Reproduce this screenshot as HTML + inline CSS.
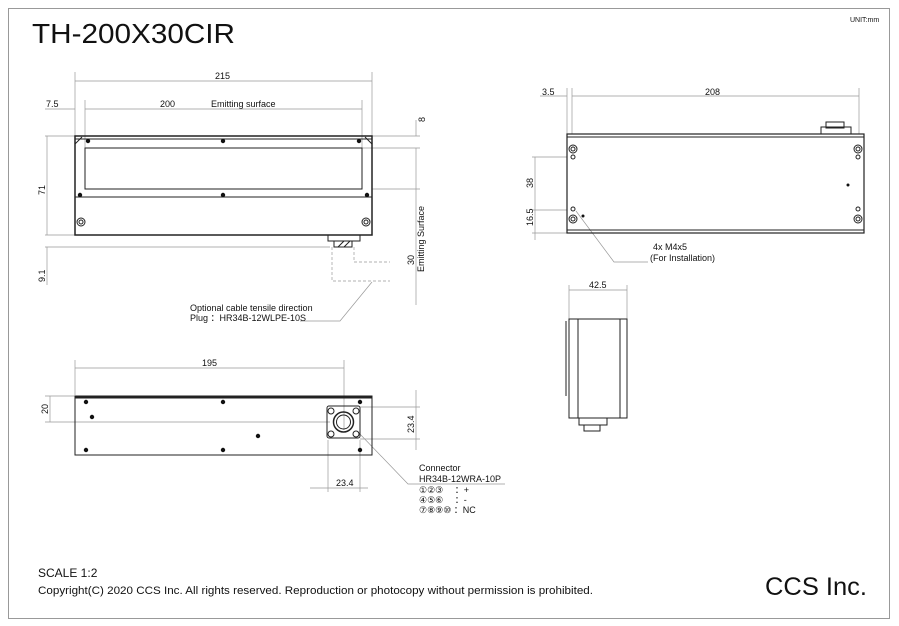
<!DOCTYPE html>
<html><head><meta charset="utf-8"><style>
html,body{margin:0;padding:0;background:#fff;}
svg{display:block;font-family:"Liberation Sans",sans-serif;}
</style></head><body>
<svg width="899" height="626" viewBox="0 0 899 626" xmlns="http://www.w3.org/2000/svg">
<rect x="0" y="0" width="899" height="626" fill="#fff"/>
<rect x="8.5" y="8.5" width="881" height="610" fill="none" stroke="#999" stroke-width="1"/>
<text x="32" y="43" font-size="28" fill="#111" textLength="203" lengthAdjust="spacingAndGlyphs">TH-200X30CIR</text>
<text x="850" y="22" font-size="7" fill="#111">UNIT:mm</text>

<g stroke="#999" stroke-width="0.7" fill="none">
<line x1="75" y1="72" x2="75" y2="136"/><line x1="372" y1="72" x2="372" y2="136"/>
<line x1="75" y1="81" x2="372" y2="81"/>
<line x1="85" y1="100" x2="85" y2="148"/><line x1="362" y1="100" x2="362" y2="148"/>
<line x1="45" y1="109" x2="75" y2="109"/><line x1="85" y1="109" x2="362" y2="109"/>
<line x1="45" y1="136" x2="75" y2="136"/><line x1="45" y1="235" x2="75" y2="235"/>
<line x1="47" y1="136" x2="47" y2="235"/>
<line x1="45" y1="247" x2="330" y2="247"/>
<line x1="47" y1="247" x2="47" y2="285"/>
<line x1="372" y1="136" x2="420" y2="136"/><line x1="362" y1="148" x2="420" y2="148"/><line x1="372" y1="189" x2="420" y2="189"/>
<line x1="416" y1="120" x2="416" y2="136"/><line x1="416" y1="148" x2="416" y2="189"/><line x1="416" y1="189" x2="416" y2="305"/>
<polyline points="354,247 354,262 390,262" stroke-dasharray="3,2"/>
<polyline points="332,247 332,281 390,281" stroke-dasharray="3,2"/>
<polyline points="372,282 340,321 300,321"/>
<line x1="75" y1="360" x2="75" y2="395"/><line x1="344" y1="360" x2="344" y2="430"/>
<line x1="75" y1="368" x2="344" y2="368"/>
<line x1="45" y1="396" x2="75" y2="396"/><line x1="45" y1="422" x2="330" y2="422"/>
<line x1="50" y1="396" x2="50" y2="422"/>
<line x1="360" y1="407" x2="420" y2="407"/><line x1="360" y1="439" x2="420" y2="439"/>
<line x1="416" y1="390" x2="416" y2="450"/>
<line x1="328" y1="440" x2="328" y2="492"/><line x1="360" y1="440" x2="360" y2="492"/>
<line x1="310" y1="488" x2="368" y2="488"/>
<polyline points="358,432 408,484 505,484"/>
<line x1="567" y1="88" x2="567" y2="134"/><line x1="572" y1="88" x2="572" y2="134"/><line x1="859" y1="88" x2="859" y2="134"/>
<line x1="540" y1="96" x2="567" y2="96"/><line x1="572" y1="96" x2="859" y2="96"/>
<line x1="532" y1="157" x2="567" y2="157"/><line x1="532" y1="210" x2="567" y2="210"/><line x1="532" y1="233" x2="567" y2="233"/>
<line x1="535" y1="157" x2="535" y2="240"/>
<polyline points="576,211 614,262 648,262"/>
<line x1="569" y1="285" x2="569" y2="319"/><line x1="627" y1="285" x2="627" y2="319"/>
<line x1="569" y1="290" x2="627" y2="290"/>
</g>

<g stroke="#222" fill="none" stroke-width="1">
<rect x="75" y="136" width="297" height="99" stroke-width="1.5"/>
<line x1="75" y1="139" x2="372" y2="139"/>
<rect x="85" y="148" width="277" height="41"/>
<line x1="75" y1="197" x2="372" y2="197"/>
<line x1="75" y1="144" x2="82" y2="137"/><line x1="372" y1="144" x2="365" y2="137"/>
<circle cx="81" cy="222" r="4"/><circle cx="366" cy="222" r="4"/>
<circle cx="81" cy="222" r="2"/><circle cx="366" cy="222" r="2"/>
<rect x="328" y="235" width="32" height="6"/><rect x="334" y="241" width="18" height="6"/>
<path d="M338 247 l6 -6 M344 247 l6 -6"/>
<rect x="75" y="396" width="297" height="59"/>
<line x1="75" y1="397.5" x2="372" y2="397.5" stroke-width="2"/>
<rect x="327" y="406" width="33" height="32" rx="2"/>
<circle cx="343.5" cy="422" r="10" stroke-width="1.5"/><circle cx="343.5" cy="422" r="7"/>
<circle cx="331" cy="411" r="3"/><circle cx="356" cy="411" r="3"/><circle cx="331" cy="434" r="3"/><circle cx="356" cy="434" r="3"/>
<rect x="567" y="134" width="297" height="99" stroke-width="1.2"/>
<line x1="567" y1="137" x2="864" y2="137"/><line x1="567" y1="230" x2="864" y2="230"/>
<rect x="821" y="127" width="30" height="7"/><rect x="826" y="122" width="18" height="6"/>
<circle cx="573" cy="149" r="4"/><circle cx="573" cy="149" r="2"/>
<circle cx="858" cy="149" r="4"/><circle cx="858" cy="149" r="2"/>
<circle cx="573" cy="219" r="4"/><circle cx="573" cy="219" r="2"/>
<circle cx="858" cy="219" r="4"/><circle cx="858" cy="219" r="2"/>
<circle cx="573" cy="157" r="2"/><circle cx="858" cy="157" r="2"/>
<circle cx="573" cy="209" r="2"/><circle cx="858" cy="209" r="2"/>
<rect x="569" y="319" width="58" height="99"/>
<line x1="578" y1="319" x2="578" y2="418"/><line x1="620" y1="319" x2="620" y2="418"/>
<line x1="566" y1="321" x2="566" y2="396"/>
<rect x="579" y="418" width="28" height="7"/><rect x="584" y="425" width="16" height="6"/>
</g>
<g fill="#111">
<circle cx="88" cy="141" r="2.2"/><circle cx="223" cy="141" r="2.2"/><circle cx="359" cy="141" r="2.2"/>
<circle cx="80" cy="195" r="2.2"/><circle cx="223" cy="195" r="2.2"/><circle cx="367" cy="195" r="2.2"/>
<circle cx="86" cy="402" r="2.2"/><circle cx="223" cy="402" r="2.2"/><circle cx="360" cy="402" r="2.2"/>
<circle cx="92" cy="417" r="2.2"/><circle cx="258" cy="436" r="2.2"/>
<circle cx="86" cy="450" r="2.2"/><circle cx="223" cy="450" r="2.2"/><circle cx="360" cy="450" r="2.2"/>
<circle cx="848" cy="185" r="1.5"/><circle cx="583" cy="216" r="1.5"/>
</g>

<g font-size="9" fill="#111">
<text x="215" y="79">215</text>
<text x="46" y="107">7.5</text>
<text x="160" y="107">200</text>
<text x="211" y="107">Emitting surface</text>
<text transform="translate(425,122) rotate(-90)">8</text>
<text transform="translate(45,195) rotate(-90)">71</text>
<text transform="translate(45,282) rotate(-90)">9.1</text>
<text transform="translate(414,265) rotate(-90)">30</text>
<text transform="translate(424,272) rotate(-90)">Emitting Surface</text>
<text x="190" y="311">Optional cable tensile direction</text>
<text x="190" y="321">Plug ：HR34B-12WLPE-10S</text>
<text x="202" y="366">195</text>
<text transform="translate(48,414) rotate(-90)">20</text>
<text transform="translate(414,433) rotate(-90)">23.4</text>
<text x="336" y="486">23.4</text>
<text x="419" y="471">Connector</text>
<text x="419" y="482">HR34B-12WRA-10P</text>
<text x="419" y="493">①②③　 ：+</text>
<text x="419" y="503">④⑤⑥　 ：-</text>
<text x="419" y="513">⑦⑧⑨⑩ ：NC</text>
<text x="542" y="95">3.5</text>
<text x="705" y="95">208</text>
<text transform="translate(533,188) rotate(-90)">38</text>
<text transform="translate(533,226) rotate(-90)">16.5</text>
<text x="653" y="250">4x M4x5</text>
<text x="650" y="261">(For Installation)</text>
<text x="589" y="288">42.5</text>
</g>
<text x="38" y="577" font-size="12" fill="#111">SCALE 1:2</text>
<text x="38" y="594" font-size="11" fill="#111" textLength="555" lengthAdjust="spacingAndGlyphs">Copyright(C) 2020 CCS Inc. All rights reserved. Reproduction or photocopy without permission is prohibited.</text>
<text x="765" y="595" font-size="25" fill="#111" textLength="102" lengthAdjust="spacingAndGlyphs">CCS Inc.</text>
</svg>
</body></html>
